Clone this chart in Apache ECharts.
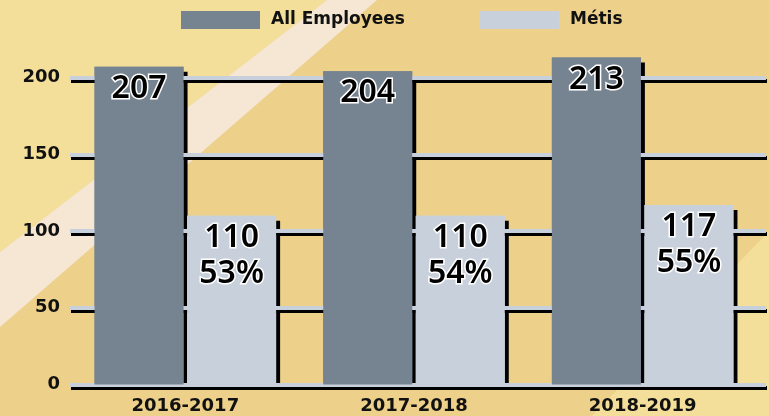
<!DOCTYPE html>
<html>
<head>
<meta charset="utf-8">
<script src="https://cdn.jsdelivr.net/npm/echarts@6/dist/echarts.min.js"></script>
<style>
html,body{margin:0;padding:0;}
#chart{width:769px;height:416px;}
</style>
</head>
<body>
<div id="chart"></div>
<script>
var categories = ['2016-2017', '2017-2018', '2018-2019'];
var allEmployees = [207, 204, 213];
var metis = [110, 110, 117];
var metisPct = ['53%', '54%', '55%'];
var seriesNames = ['All Employees', 'Métis'];
var yMin = 0, yMax = 200, yInterval = 50;

var FONT = '"DejaVu Sans", sans-serif';
var LABEL_FONT = '"Noto Sans", sans-serif';
var DARK = '#768391', LIGHT = '#c8d0db';
var TOP = 77.5, BOTTOM = 31.5;

var chart = echarts.init(document.getElementById('chart'));

function barSeries(name, data, color, axisIdx, z, withShadow, label) {
  var s = {
    name: name,
    type: 'bar',
    xAxisIndex: axisIdx,
    yAxisIndex: 0,
    data: data,
    barWidth: 89,
    barGap: '4%',
    clip: false,
    z: z,
    animation: false,
    silent: true,
    itemStyle: { color: color }
  };
  if (withShadow) {
    s.itemStyle.shadowColor = '#000';
    s.itemStyle.shadowOffsetX = 4;
    s.itemStyle.shadowOffsetY = 5;
    s.itemStyle.shadowBlur = 0;
  }
  if (label) s.label = label;
  return s;
}

var labelBase = {
  show: true,
  position: 'insideTop',
  distance: 4,
  fontFamily: LABEL_FONT,
  fontSize: 32,
  fontWeight: 600,
  lineHeight: 36,
  color: '#000',
  textBorderColor: '#fff',
  textBorderWidth: 3
};

var option = {
  backgroundColor: '#edd08a',
  animation: false,
  graphic: {
    elements: [
      { type: 'polygon', z: -10, silent: true,
        shape: { points: [[0, 0], [327, 0], [0, 252]] },
        style: { fill: '#f3df9a' } },
      { type: 'polygon', z: -10, silent: true,
        shape: { points: [[327, 0], [377, 0], [0, 327], [0, 252]] },
        style: { fill: '#f5e7d4' } },
      { type: 'polygon', z: -10, silent: true,
        shape: { points: [[769, 231], [769, 416], [592, 416]] },
        style: { fill: '#f3df9a' } }
    ]
  },
  legend: {
    data: seriesNames,
    left: 181,
    top: 11,
    padding: 0,
    itemWidth: 79,
    itemHeight: 18,
    itemGap: 75,
    icon: 'rect',
    textStyle: { fontFamily: FONT, fontSize: 17, fontWeight: 'bold', color: '#111', padding: [2, 0, 0, 6] }
  },
  grid: [
    { left: 71, right: 12, top: TOP, bottom: BOTTOM },
    { left: 70, right: 3, top: TOP, bottom: BOTTOM }
  ],
  xAxis: [
    { type: 'category', gridIndex: 0, data: categories,
      axisLine: { show: false }, axisTick: { show: false },
      axisLabel: { margin: 13, fontFamily: FONT, fontSize: 18, fontWeight: 'bold', color: '#111' } },
    { type: 'category', gridIndex: 0, data: categories, show: false },
    { type: 'value', gridIndex: 1, min: 0, max: 1, show: false }
  ],
  yAxis: [
    { type: 'value', gridIndex: 0, min: yMin, max: yMax, interval: yInterval,
      splitLine: { show: false }, axisLine: { show: false }, axisTick: { show: false },
      axisLabel: { margin: 11, fontFamily: FONT, fontSize: 18, fontWeight: 'bold', color: '#111', padding: [3, 0, 0, 0] } },
    { type: 'value', gridIndex: 1, min: yMin, max: yMax, interval: yInterval, z: 2,
      axisLine: { show: false }, axisTick: { show: false }, axisLabel: { show: false },
      splitLine: { show: true, lineStyle: { color: LIGHT, width: 4, shadowColor: '#000', shadowOffsetY: 3, shadowOffsetX: 1, shadowBlur: 0 } } }
  ],
  series: [
    barSeries('shadow-all', allEmployees, DARK, 0, 1, true),
    barSeries('shadow-metis', metis, LIGHT, 0, 1, true),
    barSeries(seriesNames[0], allEmployees, DARK, 1, 3, false, Object.assign({}, labelBase)),
    barSeries(seriesNames[1], metis, LIGHT, 1, 3, false, Object.assign({}, labelBase, {
      formatter: function (p) { return p.value + '\n' + metisPct[p.dataIndex]; }
    }))
  ]
};
chart.setOption(option);
</script>
</body>
</html>
